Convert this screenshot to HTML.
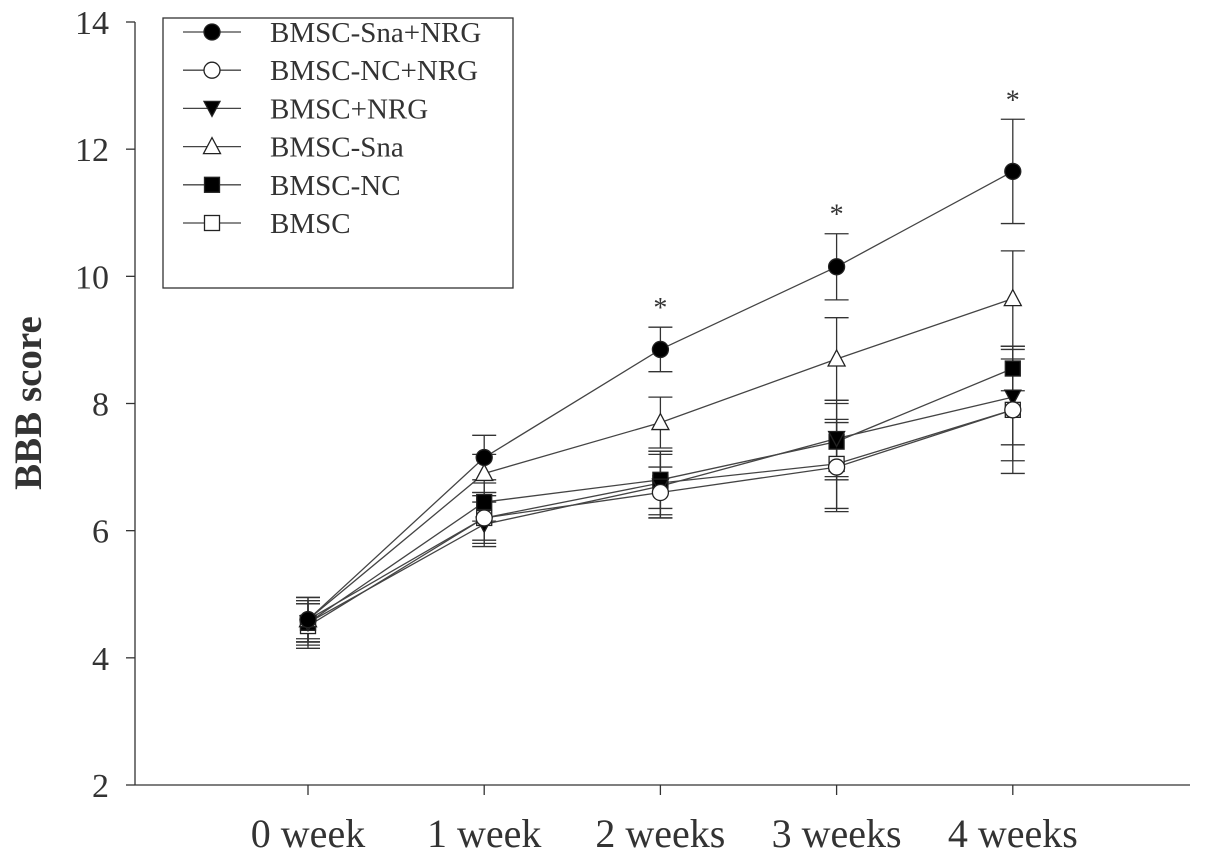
<!DOCTYPE html>
<html><head><meta charset="utf-8"><style>
body{margin:0;background:#fff}
svg text{font-family:"Liberation Serif",serif;fill:#333}
</style></head><body>
<svg id="chart" width="1205" height="859" viewBox="0 0 1205 859" xmlns="http://www.w3.org/2000/svg">
<g id="axes"></g>
<g id="plot"></g>
<g id="legend"></g>
</svg>
<script>
const categories = ["0 week","1 week","2 weeks","3 weeks","4 weeks"];
const yTicks = [2,4,6,8,10,12,14];
const seriesNames = ["BMSC-Sna+NRG","BMSC-NC+NRG","BMSC+NRG","BMSC-Sna","BMSC-NC","BMSC"];
const markers = ["circle-filled","circle-open","tri-down-filled","tri-up-open","square-filled","square-open"];
const sSnaNRG = [4.6,7.15,8.85,10.15,11.65];
const eSnaNRG = [0.35,0.35,0.35,0.52,0.82];
const sNCNRG = [4.6,6.2,6.6,7.0,7.9];
const eNCNRG = [0.35,0.35,0.4,0.7,0.8];
const sNRG = [4.55,6.1,6.7,7.45,8.1];
const eNRG = [0.35,0.35,0.5,0.6,0.75];
const sSna = [4.6,6.9,7.7,8.7,9.65];
const eSna = [0.3,0.3,0.4,0.65,0.75];
const sNC = [4.55,6.45,6.8,7.4,8.55];
const eNC = [0.3,0.3,0.45,0.6,0.35];
const sBMSC = [4.5,6.2,6.75,7.05,7.9];
const eBMSC = [0.35,0.4,0.5,0.7,1.0];
const significant = [false,false,true,true,true];

const allSeries=[sSnaNRG,sNCNRG,sNRG,sSna,sNC,sBMSC];
const allErr=[eSnaNRG,eNCNRG,eNRG,eSna,eNC,eBMSC];
const NS="http://www.w3.org/2000/svg";
const X0=135,X1=1190,Y0=785,Y1=22;
const yScale=v=>Y0-(v-2)*(Y0-Y1)/12;
const xScale=i=>308+i*176.2;
function mk(tag,attrs,parent){const e=document.createElementNS(NS,tag);for(const k in attrs)e.setAttribute(k,attrs[k]);parent.appendChild(e);return e;}
const axes=document.getElementById('axes'),plot=document.getElementById('plot'),legend=document.getElementById('legend');
const st={stroke:"#333","stroke-width":1.3,fill:"none"};
let a=mk('line',Object.assign({x1:X0,y1:Y1,x2:X0,y2:Y0},st),axes);


a=mk('line',Object.assign({x1:X0,y1:Y0,x2:X1,y2:Y0},st),axes);


yTicks.forEach(v=>{const y=yScale(v);
 mk('line',Object.assign({x1:X0-9,y1:y,x2:X0,y2:y},st),axes);
 const t=mk('text',{x:X0-26,y:y+12,"text-anchor":"end","font-size":34},axes);t.textContent=v;
 
 
});
categories.forEach((c,i)=>{const x=xScale(i);
 mk('line',Object.assign({x1:x,y1:Y0,x2:x,y2:Y0+10},st),axes);
 const t=mk('text',{x:x,y:847,"text-anchor":"middle","font-size":40},axes);t.textContent=c;
 
 
});
const yt=mk('text',{x:0,y:0,transform:"translate(41,403) rotate(-90)","text-anchor":"middle","font-size":39,"font-weight":"bold"},axes);
yt.textContent="BBB score";



function marker(type,x,y,parent){
 const s={stroke:"#222","stroke-width":1.3};
 const filled=type.includes('filled');s.fill=filled?"#000":"#fff";
 let e;
 if(type.startsWith('circle'))e=mk('circle',Object.assign({cx:x,cy:y,r:8},s),parent);
 else if(type.startsWith('square'))e=mk('rect',Object.assign({x:x-7.5,y:y-7.5,width:15,height:15},s),parent);
 else if(type.startsWith('tri-down'))e=mk('polygon',Object.assign({points:`${x-8},${y-7} ${x+8},${y-7} ${x},${y+8}`},s),parent);
 else e=mk('polygon',Object.assign({points:`${x-8.5},${y+7} ${x+8.5},${y+7} ${x},${y-9}`},s),parent);
 return e;
}
for(let k=allSeries.length-1;k>=0;k--){
 const d=allSeries[k],e=allErr[k];
 const pts=d.map((v,i)=>xScale(i)+","+yScale(v)).join(" ");
 const pl=mk('polyline',{points:pts,fill:"none",stroke:"#444","stroke-width":1.3},plot);
 
 
 d.forEach((v,i)=>{const x=xScale(i),yh=yScale(v+e[i]),yl=yScale(v-e[i]);
  const g=mk('g',{stroke:"#333","stroke-width":1.3},plot);
  
  
  mk('line',{x1:x,y1:yh,x2:x,y2:yl},g);
  mk('line',{x1:x-12,y1:yh,x2:x+12,y2:yh},g);
  mk('line',{x1:x-12,y1:yl,x2:x+12,y2:yl},g);
 });
}
for(let k=allSeries.length-1;k>=0;k--){
 allSeries[k].forEach((v,i)=>{const m=marker(markers[k],xScale(i),yScale(v),plot);
  
  
 });
}
significant.forEach((s,i)=>{if(!s)return;
 const top=Math.max(...allSeries.map((d,k)=>d[i]+allErr[k][i]));
 const t=mk('text',{x:xScale(i),y:yScale(top)-10,"text-anchor":"middle","font-size":28},plot);t.textContent="*";
 
 
});
const box=mk('rect',{x:163,y:18,width:350,height:270,fill:"#fff",stroke:"#333","stroke-width":1.3},legend);


seriesNames.forEach((n,k)=>{const y=32+k*38.2;
 const g=mk('g',{},legend);
 
 
 mk('line',{x1:183,y1:y,x2:241,y2:y,stroke:"#444","stroke-width":1.3},g);
 marker(markers[k],212,y,g);
 const t=mk('text',{x:270,y:y+10,"font-size":29},g);t.textContent=n;
});
</script>
</body></html>
